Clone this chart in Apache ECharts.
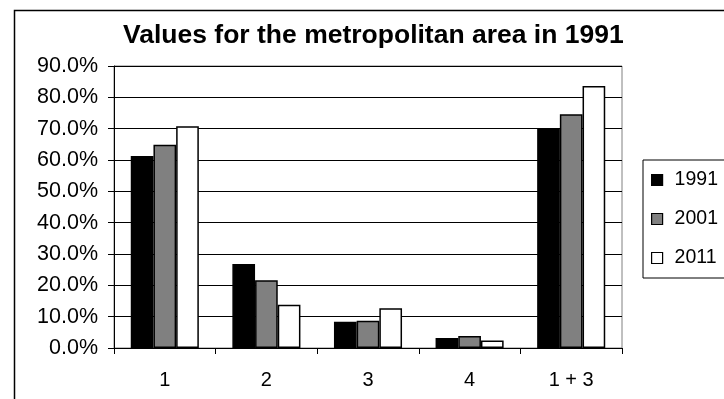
<!DOCTYPE html>
<html>
<head>
<meta charset="utf-8">
<script src="https://cdn.jsdelivr.net/npm/echarts@6/dist/echarts.min.js"></script>
<style>
  html, body { margin: 0; padding: 0; background: #fff; }
  #chart { width: 724px; height: 399px; }
</style>
</head>
<body>
<div id="chart"></div>
<script>
const categories = ['1', '2', '3', '4', '1 + 3'];
const years = ['1991', '2001', '2011'];
const values1991 = [61.3, 26.8, 8.4, 3.2, 70.1];
const values2001 = [64.9, 21.6, 8.7, 3.8, 74.6];
const values2011 = [70.8, 13.8, 12.7, 2.4, 83.6];

const FONT = '"Liberation Sans", Arial, sans-serif';
const colors = ['#000000', '#808080', '#ffffff'];

const chart = echarts.init(document.getElementById('chart'), null, { renderer: 'canvas' });

const makeSeries = (name, data, color) => ({
    name: name,
    type: 'bar',
    data: data,
    barGap: '0%',
    barCategoryGap: '33%',
    itemStyle: { color: color, borderColor: '#000', borderWidth: 1.5 },
    animation: false
});

const option = {
    backgroundColor: '#fff',
    animation: false,
    title: {
        text: 'Values for the metropolitan area in 1991',
        left: 118,
        top: 17,
        textStyle: { fontFamily: FONT, fontSize: 26.5, fontWeight: 'bold', color: '#000' }
    },
    legend: {
        orient: 'vertical',
        left: 643,
        top: 160,
        padding: [10, 40, 10, 8],
        borderColor: '#000',
        borderWidth: 1,
        itemWidth: 11,
        itemHeight: 11,
        itemGap: 19,
        icon: 'rect',
        textStyle: { fontFamily: FONT, fontSize: 19.5, color: '#000', padding: [0, 0, 0, 7] },
        data: years.map((y, i) => ({
            name: y,
            itemStyle: { color: colors[i], borderColor: '#000', borderWidth: 1.2 }
        }))
    },
    grid: {
        left: 114,
        right: 102,
        top: 66,
        bottom: 51,
        show: true,
        borderColor: '#808080',
        borderWidth: 1
    },
    xAxis: {
        type: 'category',
        data: categories,
        axisLine: { lineStyle: { color: '#000', width: 1 } },
        axisTick: { show: true, alignWithLabel: false, length: 6, lineStyle: { color: '#000' } },
        axisLabel: { fontFamily: FONT, fontSize: 20, color: '#000', margin: 22 }
    },
    yAxis: {
        type: 'value',
        min: 0,
        max: 90,
        interval: 10,
        axisLine: { show: true, lineStyle: { color: '#000', width: 1 } },
        axisTick: { show: true, length: 6, lineStyle: { color: '#000' } },
        axisLabel: {
            fontFamily: FONT, fontSize: 21.5, color: '#000', margin: 16,
            formatter: v => v.toFixed(1) + '%'
        },
        splitLine: { show: true, lineStyle: { color: '#000', width: 1 } }
    },
    graphic: [{
        type: 'rect',
        left: 12,
        top: 8,
        shape: { width: 800, height: 500 },
        style: { fill: 'none', stroke: '#000', lineWidth: 1.5 },
        silent: true
    }],
    series: [
        makeSeries(years[0], values1991, colors[0]),
        makeSeries(years[1], values2001, colors[1]),
        makeSeries(years[2], values2011, colors[2])
    ]
};

chart.setOption(option);
</script>
</body>
</html>
